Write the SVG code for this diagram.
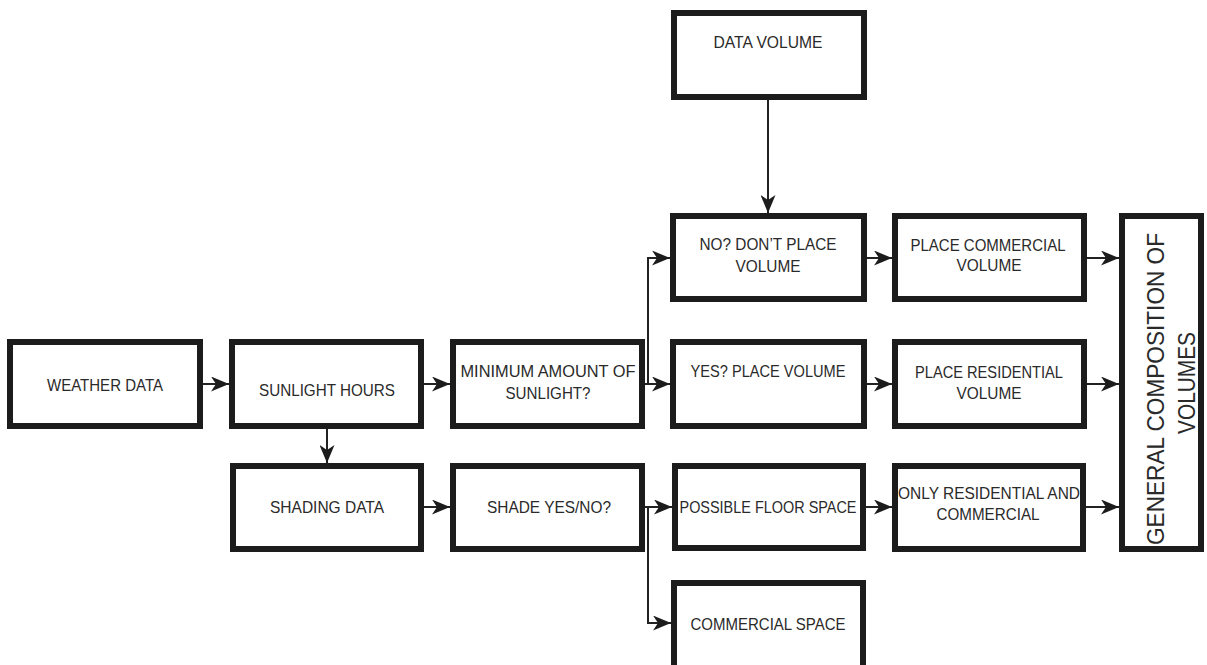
<svg xmlns="http://www.w3.org/2000/svg" width="1207" height="665" viewBox="0 0 1207 665">
<defs>
<style>
.box{fill:#fff;stroke:#1c1c1c;stroke-width:6}
.t{font-family:"Liberation Sans",Arial,sans-serif;font-size:17px;fill:#2a2a2a;text-anchor:middle}
.tg{font-family:"Liberation Sans",Arial,sans-serif;font-size:24px;fill:#2a2a2a;text-anchor:middle}
.c{fill:none;stroke:#222;stroke-width:2;marker-end:url(#ah)}
</style>
<marker id="ah" viewBox="0 0 18 15" refX="18" refY="7.5" markerWidth="18" markerHeight="15" markerUnits="userSpaceOnUse" orient="auto">
<path d="M0,0 L18,7.5 L0,15 L5,7.5 Z" fill="#1c1c1c"/>
</marker>
</defs>
<rect width="1207" height="665" fill="#fff"/>

<g id="connectors">
<path class="c" d="M203,384 H229"/>
<path class="c" d="M424,384 H450"/>
<path class="c" d="M327,429 V463"/>
<path class="c" d="M645,384 H670"/>
<path class="c" d="M648,384 V258 H670"/>
<path class="c" d="M768,100 V213"/>
<path class="c" d="M867,258 H892"/>
<path class="c" d="M867,384 H892"/>
<path class="c" d="M1087,258 H1119"/>
<path class="c" d="M1087,384 H1119"/>
<path class="c" d="M1086,507 H1119"/>
<path class="c" d="M424,507 H450"/>
<path class="c" d="M645,507 H672"/>
<path class="c" d="M648,507 V623 H671"/>
<path class="c" d="M866,507 H892"/>
</g>

<g id="weather-data">
<rect class="box" x="10" y="342" width="190" height="84"/>
<text class="t" x="105" y="391" textLength="116" lengthAdjust="spacingAndGlyphs">WEATHER DATA</text>
</g>
<g id="sunlight-hours">
<rect class="box" x="232" y="342" width="189" height="84"/>
<text class="t" x="327" y="396" textLength="136" lengthAdjust="spacingAndGlyphs">SUNLIGHT HOURS</text>
</g>
<g id="minimum-sunlight">
<rect class="box" x="453" y="342" width="189" height="84"/>
<text class="t" x="548" y="377" textLength="175" lengthAdjust="spacingAndGlyphs">MINIMUM AMOUNT OF</text>
<text class="t" x="548" y="399" textLength="85" lengthAdjust="spacingAndGlyphs">SUNLIGHT?</text>
</g>
<g id="data-volume">
<rect class="box" x="674" y="13" width="190" height="84"/>
<text class="t" x="768" y="48" textLength="109" lengthAdjust="spacingAndGlyphs">DATA VOLUME</text>
</g>
<g id="no-dont-place">
<rect class="box" x="673" y="216" width="191" height="83"/>
<text class="t" x="768" y="250" textLength="137" lengthAdjust="spacingAndGlyphs">NO? DON’T PLACE</text>
<text class="t" x="768" y="272" textLength="65" lengthAdjust="spacingAndGlyphs">VOLUME</text>
</g>
<g id="yes-place">
<rect class="box" x="673" y="342" width="191" height="84"/>
<text class="t" x="768" y="377" textLength="155" lengthAdjust="spacingAndGlyphs">YES? PLACE VOLUME</text>
</g>
<g id="place-commercial">
<rect class="box" x="895" y="216" width="189" height="83"/>
<text class="t" x="988" y="251" textLength="155" lengthAdjust="spacingAndGlyphs">PLACE COMMERCIAL</text>
<text class="t" x="989" y="271" textLength="65" lengthAdjust="spacingAndGlyphs">VOLUME</text>
</g>
<g id="place-residential">
<rect class="box" x="895" y="342" width="189" height="84"/>
<text class="t" x="989" y="378" textLength="148" lengthAdjust="spacingAndGlyphs">PLACE RESIDENTIAL</text>
<text class="t" x="989" y="399" textLength="65" lengthAdjust="spacingAndGlyphs">VOLUME</text>
</g>
<g id="general-composition">
<rect class="box" x="1122" y="216" width="79" height="333"/>
<text class="tg" transform="translate(1164,389) rotate(-90)" textLength="312" lengthAdjust="spacingAndGlyphs">GENERAL COMPOSITION OF</text>
<text class="tg" transform="translate(1195,383) rotate(-90)" textLength="102" lengthAdjust="spacingAndGlyphs">VOLUMES</text>
</g>
<g id="shading-data">
<rect class="box" x="233" y="466" width="188" height="83"/>
<text class="t" x="327" y="513" textLength="114" lengthAdjust="spacingAndGlyphs">SHADING DATA</text>
</g>
<g id="shade-yes-no">
<rect class="box" x="453" y="466" width="189" height="83"/>
<text class="t" x="549" y="513" textLength="124" lengthAdjust="spacingAndGlyphs">SHADE YES/NO?</text>
</g>
<g id="possible-floor-space">
<rect class="box" x="675" y="466" width="188" height="82"/>
<text class="t" x="768" y="513" textLength="177" lengthAdjust="spacingAndGlyphs">POSSIBLE FLOOR SPACE</text>
</g>
<g id="only-residential-commercial">
<rect class="box" x="895" y="466" width="188" height="83"/>
<text class="t" x="989" y="499" textLength="182" lengthAdjust="spacingAndGlyphs">ONLY RESIDENTIAL AND</text>
<text class="t" x="988" y="520" textLength="103" lengthAdjust="spacingAndGlyphs">COMMERCIAL</text>
</g>
<g id="commercial-space">
<rect class="box" x="674" y="583" width="189" height="100"/>
<text class="t" x="768" y="630" textLength="155" lengthAdjust="spacingAndGlyphs">COMMERCIAL SPACE</text>
</g>
</svg>
